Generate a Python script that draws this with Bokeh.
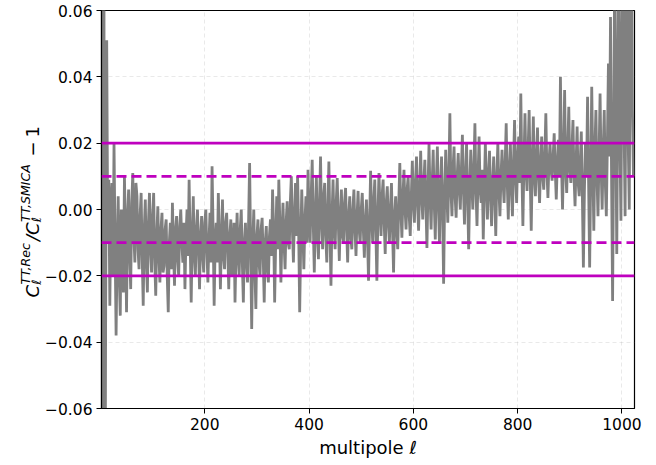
import math
from bokeh.plotting import figure
from bokeh.layouts import row
from bokeh.models import Range1d, FixedTicker, CustomJSTickFormatter, Span, ColumnDataSource
from bokeh.core.properties import value
from bokeh.embed import file_html
from bokeh.resources import INLINE

# multipoles sampled every 2
ell = list(range(2, 1023, 2))

ratio_minus_one = [
    -0.25, 0.15, 0.20, -0.15, -0.03, 0.051, -0.01, 0.009, -0.029, 0.002,
    0.008, -0.020, 0.020, -0.010, -0.038, -0.012, 0.004, -0.020, -0.032, 0.0,
    -0.006, -0.025, 0.010, -0.008, -0.031, -0.002, 0.006, -0.014, -0.024, 0.002,
    0.011, -0.008, -0.016, 0.008, 0.004, -0.012, -0.018, -0.002, 0.005, -0.014,
    -0.029, -0.006, 0.003, -0.016, -0.025, -0.004, 0.005, -0.012, -0.019, -0.002,
    0.005, -0.015, -0.026, -0.008, 0.001, -0.014, -0.022, -0.006, -0.001, -0.019,
    -0.017, -0.006, -0.003, -0.020, -0.031, -0.010, -0.004, -0.018, 0.002, -0.012,
    -0.023, -0.006, -0.002, -0.015, -0.020, -0.005, 0.0, -0.010, -0.016, -0.004,
    -0.024, -0.008, 0.0, -0.014, 0.009, -0.010, -0.028, -0.008, 0.004, -0.014,
    -0.020, -0.006, 0.0, -0.012, -0.024, -0.008, -0.002, -0.014, -0.019, -0.004,
    0.0, -0.012, -0.022, -0.010, -0.001, -0.016, 0.013, -0.006, -0.029, -0.010,
    -0.004, -0.016, 0.005, -0.008, -0.024, -0.010, 0.003, -0.014, -0.018, -0.004,
    -0.001, -0.012, -0.024, -0.008, -0.003, -0.020, -0.016, -0.004, -0.028, -0.012,
    -0.001, -0.014, -0.020, -0.006, 0.0, -0.016, -0.028, -0.010, -0.004, -0.016,
    -0.022, -0.004, 0.014, -0.012, -0.036, -0.010, 0.0, -0.018, -0.030, -0.008,
    -0.003, -0.016, -0.020, -0.006, -0.0025, -0.014, -0.028, -0.010, -0.005, -0.018,
    -0.022, -0.008, -0.003, -0.014, 0.006, -0.006, -0.028, -0.010, 0.004, -0.012,
    0.009, -0.004, -0.022, -0.008, 0.002, -0.010, -0.018, -0.004, 0.0025, -0.010,
    -0.012, 0.002, 0.010, -0.006, -0.016, -0.002, 0.008, -0.008, 0.010, -0.006,
    -0.031, -0.010, 0.006, -0.006, -0.018, -0.004, 0.004, -0.010, 0.012, -0.002,
    -0.010, 0.004, 0.015, -0.004, -0.019, -0.002, 0.010, -0.008, -0.015, 0.002,
    0.016, -0.004, -0.012, 0.004, 0.008, -0.008, -0.016, 0.0, 0.0145, -0.006,
    -0.023, -0.002, 0.009, -0.006, -0.012, 0.002, 0.0095, -0.004, -0.0155, -0.002,
    0.006, -0.008, -0.010, 0.002, 0.0065, -0.006, -0.016, -0.002, 0.004, -0.008,
    -0.012, 0.0, 0.006, -0.006, -0.014, -0.002, 0.0056, -0.006, -0.010, 0.0,
    0.005, -0.006, -0.0145, -0.004, 0.003, -0.008, -0.0215, -0.004, 0.0117, -0.002,
    -0.010, 0.002, 0.009, -0.006, -0.0215, -0.002, 0.011, 0.0, -0.008, 0.004,
    0.009, -0.004, -0.0134, 0.002, 0.007, -0.004, -0.010, 0.0, 0.008, -0.006,
    -0.019, -0.002, 0.004, -0.006, -0.012, 0.002, 0.014, 0.0, -0.0085, 0.004,
    0.012, 0.0, -0.006, 0.006, 0.010, -0.002, -0.008, 0.004, 0.0147, 0.002,
    -0.004, 0.008, 0.016, 0.002, -0.0064, 0.006, 0.0177, 0.004, -0.003, 0.008,
    0.015, 0.002, -0.0116, 0.006, 0.0198, 0.004, -0.006, 0.008, 0.018, 0.002,
    -0.009, 0.008, 0.019, 0.002, -0.010, 0.006, 0.016, 0.0, -0.0224, 0.004,
    0.018, 0.006, -0.004, 0.010, 0.029, 0.006, -0.002, 0.012, 0.019, 0.004,
    -0.0025, 0.010, 0.017, 0.006, 0.0, 0.012, 0.0225, 0.006, -0.0045, 0.010,
    0.020, 0.004, -0.012, 0.006, 0.018, 0.008, 0.0, 0.012, 0.026, 0.006,
    -0.005, 0.010, 0.022, 0.006, 0.002, 0.012, -0.009, 0.006, 0.020, 0.008,
    -0.003, 0.010, 0.0177, 0.004, -0.005, 0.008, 0.016, 0.004, -0.008, 0.010,
    0.020, 0.006, -0.002, 0.010, 0.018, 0.008, 0.002, 0.014, 0.026, 0.008,
    -0.003, 0.012, 0.020, 0.006, -0.002, 0.014, 0.027, 0.010, 0.002, 0.016,
    0.022, 0.008, 0.035, 0.012, -0.005, 0.014, 0.029, 0.012, 0.0056, 0.018,
    0.030, 0.010, -0.0064, 0.014, 0.028, 0.010, 0.004, 0.016, 0.0247, 0.010,
    0.002, 0.014, 0.022, 0.010, 0.006, 0.016, 0.029, 0.012, 0.0035, 0.014,
    0.020, 0.012, 0.0087, 0.016, 0.023, 0.012, 0.003, 0.014, 0.021, 0.010,
    0.040, 0.014, 0.0, 0.016, 0.036, 0.012, 0.005, 0.018, 0.031, 0.012,
    0.008, 0.018, 0.027, 0.010, 0.001, 0.014, 0.025, 0.008, 0.004, 0.014,
    0.0235, 0.004, -0.0175, 0.006, 0.020, 0.010, 0.034, 0.008, -0.0175, 0.010,
    0.037, 0.014, -0.0064, 0.018, 0.030, 0.010, -0.002, 0.016, 0.035, 0.012,
    0.0, 0.018, 0.030, 0.008, -0.002, 0.020, 0.044, 0.016, 0.058, 0.010,
    -0.0276, 0.020, 0.075, 0.030, -0.0134, 0.040, 0.09, 0.020, -0.0034, 0.050,
    0.085, 0.025, -0.002, 0.060, 0.08, 0.020, 0.0, 0.070, 0.09, 0.030,
    0.01,
]

solid_levels = [0.02, -0.02]
dashed_levels = [0.01, -0.01]
x_ticks = [200, 400, 600, 800, 1000]
y_ticks = [-0.06, -0.04, -0.02, 0.0, 0.02, 0.04, 0.06]

FONT = "DejaVu Sans"
MAGENTA = "#bf00bf"
W, H = 656, 465
LW = 42            # width of the strip holding the y-axis label
TOP, BOTTOM = 10, 57

p = figure(width=W - LW, height=H, output_backend="svg", toolbar_location=None,
           x_range=Range1d(2, 1024), y_range=Range1d(-0.06, 0.06),
           min_border_left=98 - LW, min_border_right=22,
           min_border_top=TOP, min_border_bottom=BOTTOM)

src = ColumnDataSource(dict(ell=ell, r=ratio_minus_one))
p.line("ell", "r", source=src, line_color="#808080", line_width=2.8)

for lv in solid_levels:
    p.add_layout(Span(location=lv, dimension="width", line_color=MAGENTA, line_width=2.6))
for lv in dashed_levels:
    p.add_layout(Span(location=lv, dimension="width", line_color=MAGENTA, line_width=2.6,
                      line_dash="10 5"))

p.outline_line_color = "black"
p.outline_line_width = 1.2
p.background_fill_color = "white"
p.border_fill_color = "white"

for ax in (p.xaxis[0], p.yaxis[0]):
    ax.axis_line_color = "black"
    ax.axis_line_width = 1.2
    ax.major_tick_in = 0
    ax.major_tick_out = 5
    ax.major_tick_line_color = "black"
    ax.minor_tick_line_color = None
    ax.major_label_text_font = FONT
    ax.major_label_text_font_size = "15.5px"
    ax.major_label_text_color = "black"
    ax.major_label_standoff = 4
    ax.axis_label_text_font = FONT
    ax.axis_label_text_font_style = "normal"
    ax.axis_label_text_font_size = "18px"
    ax.axis_label_text_color = "black"

p.xaxis.ticker = FixedTicker(ticks=x_ticks)
p.yaxis.ticker = FixedTicker(ticks=y_ticks)
p.yaxis.formatter = CustomJSTickFormatter(
    code="return (tick < -1e-9 ? '\u2212' : '') + Math.abs(tick).toFixed(2);")
p.xaxis.axis_label = "multipole \u2113"
p.xaxis.axis_label_standoff = 4

p.grid.grid_line_color = "#b0b0b0"
p.grid.grid_line_alpha = 0.35
p.grid.grid_line_dash = "4 3"
p.grid.grid_line_width = 0.8

# strip with the rotated y-axis label; its frame matches the main frame vertically,
# and its y coordinate is the page pixel measured upward from the bottom
lbl = figure(width=LW, height=H, output_backend="svg", toolbar_location=None,
             x_range=Range1d(0, LW), y_range=Range1d(BOTTOM, H - TOP),
             x_axis_type=None, y_axis_type=None,
             min_border_left=0, min_border_right=0,
             min_border_top=TOP, min_border_bottom=BOTTOM)
lbl.outline_line_color = None
lbl.background_fill_color = "white"
lbl.border_fill_color = "white"

A = math.pi / 2
pieces = [
    ("C", 32, 168, "18px", "italic"),
    ("\u2113", 35.5, 181, "12.6px", "italic"),
    ("TT,Rec", 24.5, 181, "12.6px", "italic"),
    ("/C", 32, 224.5, "18px", "italic"),
    ("\u2113", 35.5, 243.5, "12.6px", "italic"),
    ("TT,SMICA", 24.5, 243.5, "12.6px", "italic"),
    ("\u2212", 32, 309, "18px", "normal"),
    ("1", 32, 328, "18px", "normal"),
]
for txt, tx, ty, fs, st in pieces:
    lbl.text(x=[tx], y=[ty], text=[txt], angle=A, text_font=value(FONT),
             text_font_size=value(fs), text_font_style=st, text_color="black",
             text_align="left", text_baseline="alphabetic")

layout = row(lbl, p)
open("out.html", "w").write(file_html(layout, INLINE))
